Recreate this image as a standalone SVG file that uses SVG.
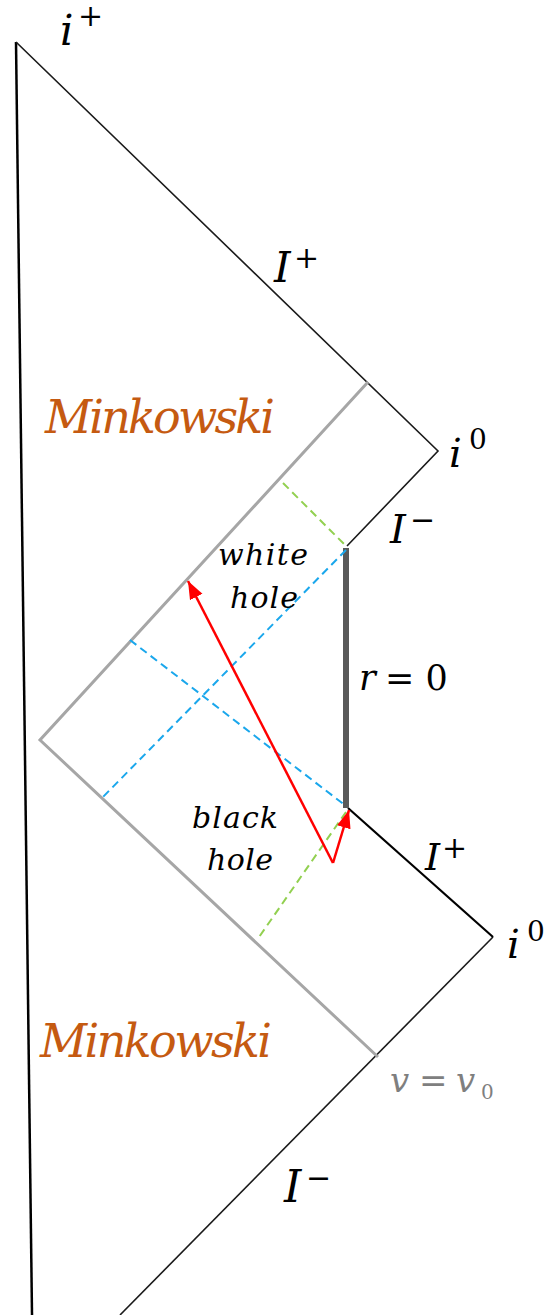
<svg xmlns="http://www.w3.org/2000/svg" width="554" height="1315" viewBox="0 0 554 1315">
<style>
.m{font-family:"DejaVu Serif","Liberation Serif",serif;font-style:italic;fill:#000}
.u{font-family:"DejaVu Serif","Liberation Serif",serif;fill:#000}
.or{fill:#c55a11}
.gr{fill:#7f7f7f}
.bd{stroke:#1a1a1a;stroke-width:1.6;fill:none}
.gl{stroke:#a6a6a6;stroke-width:3;fill:none;stroke-linejoin:miter}
.bl{stroke:#1aa7ec;stroke-width:2;stroke-dasharray:8 5;fill:none}
.gn{stroke:#92d050;stroke-width:2;stroke-dasharray:8 5;fill:none}
.rd{stroke:#ff0000;stroke-width:2.5;fill:none}
</style>
<defs>
<marker id="ah" markerUnits="userSpaceOnUse" markerWidth="20" markerHeight="20" viewBox="0 0 20 20" refX="18" refY="10" orient="auto">
<path d="M0,3 L18,10 L0,17 Z" fill="#ff0000"/>
</marker>
</defs>
<g id="boundaries">
<path d="M16,42 L32,1315" stroke="#000" stroke-width="2.5" fill="none"/>
<path class="bd" d="M16,42 L438,451 L347,546"/>
<path class="bd" d="M120,1315 L493,937"/>
<path d="M348,808 L493,937" stroke="#000" stroke-width="2.2" fill="none"/>
<path class="gl" d="M368,382 L40,740 L378,1057"/>
<path d="M346,548 L346,808" stroke="#595959" stroke-width="6" fill="none"/>
</g>
<g id="connectors">
<path class="bl" d="M346,550 L100,800"/>
<path class="bl" d="M130,640 L346,806"/>
<path class="gn" d="M283,483 L346,546"/>
<path class="gn" d="M346,812 L257,940"/>
<path class="rd" d="M333,863 L188,581" marker-end="url(#ah)"/>
<path class="rd" d="M333,863 L349,810" marker-end="url(#ah)"/>
</g>
<g id="labels">
<text class="m" x="60" y="45" font-size="42">i</text>
<text class="u" x="78" y="26" font-size="30">+</text>
<text class="m" x="274" y="282" font-size="42">I</text>
<text class="u" x="294" y="268" font-size="30">+</text>
<text class="m or" x="45" y="433" font-size="46" textLength="230" lengthAdjust="spacing">Minkowski</text>
<text class="m" x="449" y="467" font-size="40">i</text>
<text class="u" x="469" y="449" font-size="28">0</text>
<text class="m" x="390" y="543" font-size="40">I</text>
<text class="u" x="410" y="530" font-size="30">−</text>
<text class="m" x="218" y="565" font-size="30" textLength="90" lengthAdjust="spacing">white</text>
<text class="m" x="230" y="608" font-size="30" textLength="68" lengthAdjust="spacing">hole</text>
<text class="m" x="359" y="690" font-size="35">r</text>
<text class="u" x="385" y="690" font-size="35">= 0</text>
<text class="m" x="192" y="828" font-size="30" textLength="86" lengthAdjust="spacing">black</text>
<text class="m" x="207" y="870" font-size="30" textLength="66" lengthAdjust="spacing">hole</text>
<text class="m" x="425" y="870" font-size="38">I</text>
<text class="u" x="442" y="858" font-size="30">+</text>
<text class="m" x="507" y="958" font-size="40">i</text>
<text class="u" x="527" y="941" font-size="28">0</text>
<text class="m or" x="40" y="1057" font-size="46" textLength="232" lengthAdjust="spacing">Minkowski</text>
<text class="m gr" x="390" y="1092" font-size="34">v</text>
<text class="u gr" x="419" y="1092" font-size="34">=</text>
<text class="m gr" x="456" y="1092" font-size="34">v</text>
<text class="u gr" x="481" y="1099" font-size="20">0</text>
<text class="m" x="284" y="1202" font-size="44">I</text>
<text class="u" x="306" y="1188" font-size="30">−</text>
</g>
</svg>
